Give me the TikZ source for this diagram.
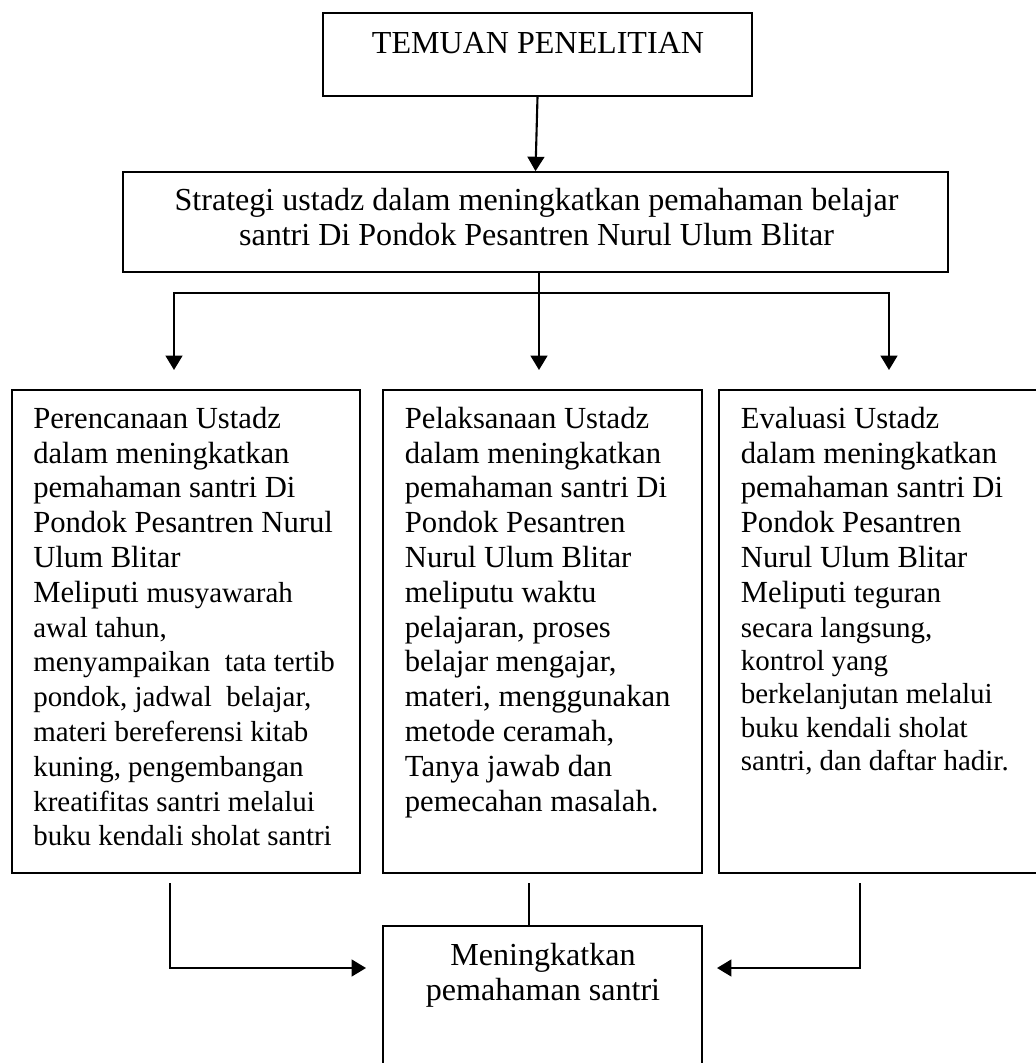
\documentclass[tikz,border=0pt]{standalone}
\usepackage{fontspec}
\setmainfont{Liberation Serif}
\usetikzlibrary{arrows.meta}
\usetikzlibrary{fit}
\usetikzlibrary{positioning}

\newcommand\judulfont{\fontsize{22.8}{24.75}\selectfont}
\newcommand\isifont{\fontsize{21.8}{24.75}\selectfont}
\newcommand\kecilfont{\fontsize{20.6}{24.75}\selectfont}

\tikzset{
    kotak/.style={draw, line width=1.2pt, inner sep=0pt},
    judul/.style={inner sep=0pt, font=\judulfont},
    isi/.style={inner sep=0pt, anchor=north west, align=left, font=\isifont},
    garis/.style={line width=1.5pt},
    panah/.style={garis, -{Triangle[length=0.36cm, width=0.42cm]}}
}

\begin{document}
\begin{tikzpicture}[x=0.025cm, y=-0.025cm]
            \useasboundingbox (0,0) rectangle (1035,1063);

            % Boxes
            \node[kotak, fit={(323,13) (752,96)}] (temuan) {};
            \node[kotak, fit={(123,172) (948,272)}] (strategi) {};
            \node[kotak, fit={(12,390) (360,873)}] (rencana) {};
            \node[kotak, fit={(383,390) (702,873)}] (laksana) {};
            \node[kotak, fit={(719,390) (1060,873)}] (evaluasi) {};
            \node[kotak, fit={(383,926) (702,1100)}] (hasil) {};

            % Texts
            \node[judul, anchor=base] (temuanTeks) at (538,54) {TEMUAN PENELITIAN};
            \node[judul, anchor=north, align=center] (strategiTeks) at (536.5,186)
                {\strut Strategi ustadz dalam meningkatkan pemahaman belajar\\
                 santri Di Pondok Pesantren Nurul Ulum Blitar};
            \node[isi] (rencanaTeks) at (33,403.6)
                {\strut Perencanaan Ustadz\\ dalam meningkatkan\\ pemahaman santri Di\\
                 Pondok Pesantren Nurul\\ Ulum Blitar\\
                 Meliputi {\kecilfont musyawarah}\\ \kecilfont awal tahun,\\
                 \kecilfont menyampaikan~ tata tertib\\ \kecilfont pondok, jadwal~ belajar,\\
                 \kecilfont materi bereferensi kitab\\ \kecilfont kuning, pengembangan\\
                 \kecilfont kreatifitas santri melalui\\ \kecilfont buku kendali sholat santri};
            \node[isi] (laksanaTeks) at (404.6,403.6)
                {\strut Pelaksanaan Ustadz\\ dalam meningkatkan\\ pemahaman santri Di\\
                 Pondok Pesantren\\ Nurul Ulum Blitar\\ meliputu waktu\\
                 pelajaran, proses\\ belajar mengajar,\\ materi, menggunakan\\
                 metode ceramah,\\ Tanya jawab dan\\ pemecahan masalah.};
            \node[isi] (evaluasiTeks) at (740.6,403.6)
                {\strut Evaluasi Ustadz\\ dalam meningkatkan\\ pemahaman santri Di\\
                 Pondok Pesantren\\ Nurul Ulum Blitar\\ Meliputi {\kecilfont teguran}\\
                 \kecilfont secara langsung,\\[-1pt] \kecilfont kontrol yang\\[-1pt]
                 \kecilfont berkelanjutan melalui\\[-1pt] \kecilfont buku kendali sholat\\[-1pt]
                 \kecilfont santri, dan daftar hadir.};
            \node[judul, anchor=north, align=center] (hasilTeks) at (543,941)
                {\strut Meningkatkan\\ pemahaman santri};

            % Points
            \coordinate (cabang) at (539,293);
            \coordinate (rencanaUjung) at (174,370);
            \coordinate (laksanaUjung) at (539,370);
            \coordinate (evaluasiUjung) at (889,370);
            \coordinate (rencanaAwal) at (170,883);
            \coordinate (laksanaAwal) at (529,883);
            \coordinate (evaluasiAwal) at (860,883);
            \coordinate (hasilKiri) at (366,968);
            \coordinate (hasilKanan) at (717,968);

            % Arrows
            \draw[panah] (temuan.south) -- (strategi.north);
            \draw[panah] (strategi.south -| cabang) -- (laksanaUjung);
            \draw[panah] (cabang) -| (rencanaUjung);
            \draw[panah] (cabang) -| (evaluasiUjung);
            \draw[panah] (rencanaAwal) |- (hasilKiri);
            \draw[garis] (laksanaAwal) -- (laksanaAwal |- hasil.north);
            \draw[panah] (evaluasiAwal) |- (hasilKanan);

        \end{tikzpicture}
\end{document}
